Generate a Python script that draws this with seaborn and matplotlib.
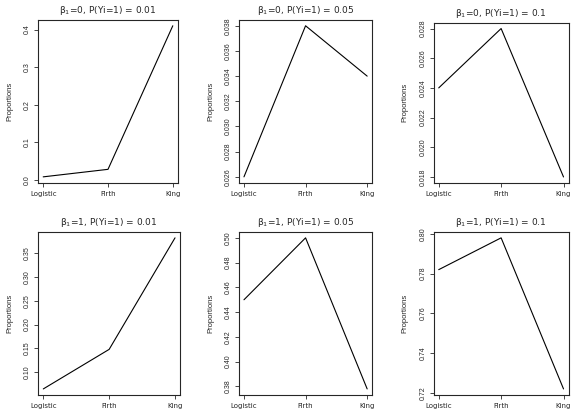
import numpy as np
import pandas as pd
import matplotlib
matplotlib.use("Agg")
import matplotlib.pyplot as plt
import seaborn as sns

methods = ["Logistic", "Firth", "King"]

# proportions
b0_p01 = [0.008, 0.028, 0.41]
b0_p05 = [0.026, 0.038, 0.034]
b0_p10 = [0.024, 0.028, 0.018]
b1_p01 = [0.065, 0.148, 0.382]
b1_p05 = [0.450, 0.500, 0.378]
b1_p10 = [0.782, 0.798, 0.722]

titles = ["β$_1$=0, P(Yi=1) = 0.01", "β$_1$=0, P(Yi=1) = 0.05", "β$_1$=0, P(Yi=1) = 0.1",
          "β$_1$=1, P(Yi=1) = 0.01", "β$_1$=1, P(Yi=1) = 0.05", "β$_1$=1, P(Yi=1) = 0.1"]

yticks = [
    [0.0, 0.1, 0.2, 0.3, 0.4],
    [0.026, 0.028, 0.030, 0.032, 0.034, 0.036, 0.038],
    [0.018, 0.020, 0.022, 0.024, 0.026, 0.028],
    [0.10, 0.15, 0.20, 0.25, 0.30, 0.35],
    [0.38, 0.40, 0.42, 0.44, 0.46, 0.48, 0.50],
    [0.72, 0.74, 0.76, 0.78, 0.80],
]
ytick_fmt = ["%.1f", "%.3f", "%.3f", "%.2f", "%.2f", "%.2f"]

series = [b0_p01, b0_p05, b0_p10, b1_p01, b1_p05, b1_p10]

sns.set_style("ticks")
plt.rcParams['font.family'] = ['Liberation Sans', 'DejaVu Sans']
plt.rcParams['mathtext.fontset'] = 'dejavusans'

fig = plt.figure(figsize=(5.76, 4.11), dpi=100)

# axes boxes (left, bottom, width, height) in figure fractions
boxes = [
    (0.066, 0.555, 0.243, 0.397),
    (0.415, 0.555, 0.231, 0.397),
    (0.753, 0.555, 0.234, 0.390),
    (0.066, 0.039, 0.247, 0.397),
    (0.415, 0.039, 0.231, 0.397),
    (0.753, 0.039, 0.234, 0.397),
]

for i in range(6):
    ax = fig.add_axes(boxes[i])
    df = pd.DataFrame({"method": methods, "prop": series[i]})
    sns.lineplot(data=df, x="method", y="prop", ax=ax, color="black", linewidth=0.8, sort=False)
    ax.margins(x=0.04, y=0.04)
    ax.set_yticks(yticks[i])
    ax.set_yticklabels([ytick_fmt[i] % v for v in yticks[i]], rotation=90, va="center", fontsize=5)
    ax.set_xticks(range(3))
    ax.set_xticklabels(methods, fontsize=5, family="DejaVu Sans")
    ax.tick_params(axis="x", length=3, width=0.6, pad=3)
    ax.tick_params(axis="y", length=3, width=0.6, pad=2)
    ax.set_xlabel("")
    ax.set_ylabel("Proportions", fontsize=5.5, labelpad=8)
    ax.set_title(titles[i], fontsize=6.5, pad=5, family="DejaVu Sans")
    for s in ax.spines.values():
        s.set_linewidth(0.8)

fig.savefig("out.png", dpi=100)
